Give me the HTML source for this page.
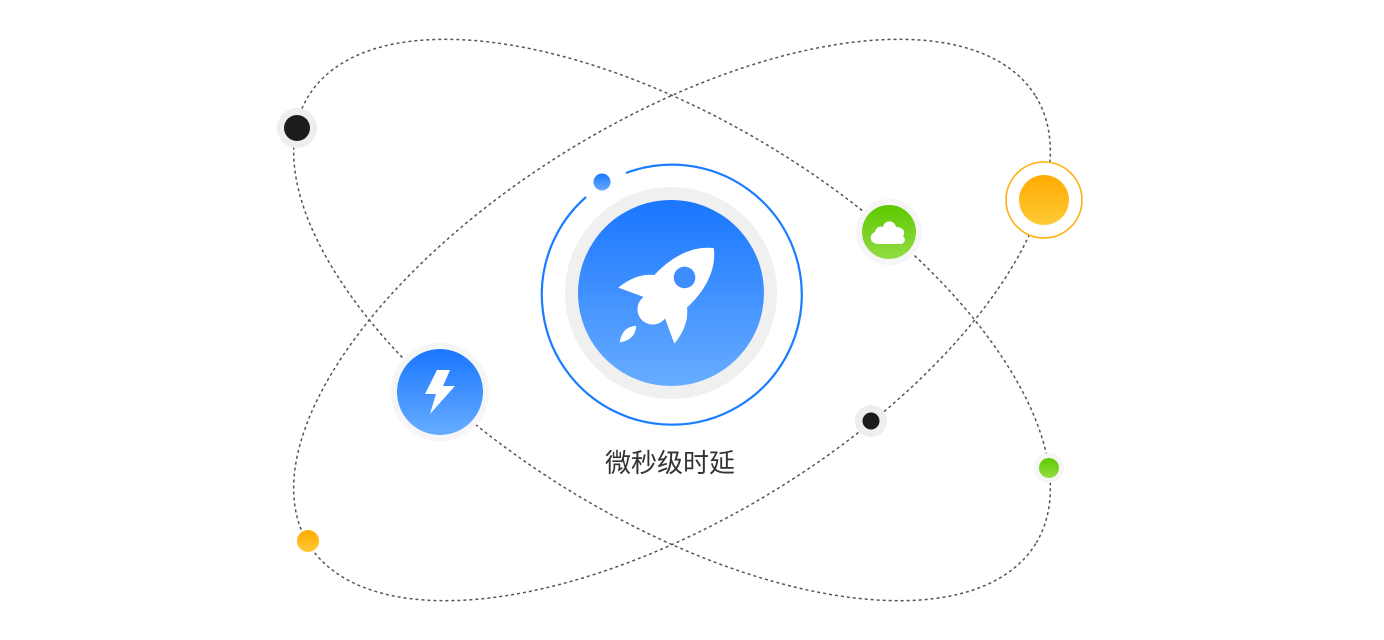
<!DOCTYPE html>
<html><head><meta charset="utf-8"><style>
html,body{margin:0;padding:0;background:#fff;width:1384px;height:640px;overflow:hidden;}
svg{display:block;}
</style></head><body>
<svg width="1384" height="640" viewBox="0 0 1384 640" xmlns="http://www.w3.org/2000/svg">
<defs>
<linearGradient id="gb" x1="0" y1="0" x2="0" y2="1"><stop offset="0" stop-color="#1a76ff"/><stop offset="1" stop-color="#67acff"/></linearGradient>
<linearGradient id="gg" x1="0" y1="0" x2="0" y2="1"><stop offset="0" stop-color="#5ec800"/><stop offset="1" stop-color="#92dc43"/></linearGradient>
<linearGradient id="go" x1="0" y1="0" x2="0" y2="1"><stop offset="0" stop-color="#ffaa00"/><stop offset="1" stop-color="#ffca36"/></linearGradient>
</defs>
<g fill="none" stroke="#555" stroke-width="1.5" stroke-dasharray="3 3">
<ellipse cx="672" cy="320" rx="427" ry="199" transform="rotate(31.6 672 320)"/>
<ellipse cx="672" cy="320" rx="427" ry="199" transform="rotate(-31.6 672 320)"/>
</g>
<circle cx="671" cy="295" r="130" fill="#fff"/>
<path d="M626,173 A130,130 0 1 1 586,197" fill="none" stroke="#1a7cff" stroke-width="2.2"/>
<circle cx="602" cy="182" r="8.5" fill="url(#gb)"/>
<circle cx="671" cy="293" r="106" fill="#f0f0f0"/>
<circle cx="671" cy="293" r="93" fill="url(#gb)"/>
<g transform="translate(668,294) rotate(45) scale(0.9)" fill="#fff">
<path d="M0,-72 C26,-52 30,-12 22,22 L-22,22 C-30,-12 -26,-52 0,-72Z"/>
<path d="M-20,-8 C-34,0 -42,14 -44,34 L-18,22Z"/>
<path d="M20,-8 C34,0 42,14 44,34 L18,22Z"/>
<circle cx="0" cy="24" r="17"/>
<path d="M0,50 C7,58 7,66 0,76 C-7,66 -7,58 0,50Z"/>
<circle cx="0" cy="-26" r="12" fill="#3d8dff"/>
</g>
<text x="670" y="472" text-anchor="middle" font-family="Liberation Sans, Noto Sans CJK SC, sans-serif" font-size="26" fill="#333">微秒级时延</text>
<circle cx="297" cy="128" r="20" fill="#eeeeee"/>
<circle cx="297" cy="128" r="13" fill="#1c1c1c"/>
<circle cx="889" cy="232" r="33" fill="#f6f6f6"/>
<circle cx="889" cy="232" r="27" fill="url(#gg)"/>
<path d="M878,244 C870,244 868,235 875,232 C876,227 880,226 883,227 C884,220 894,219 896,227 C903,227 906,232 903,236 C907,240 904,244 900,244Z" fill="#fff"/>
<circle cx="1044" cy="200" r="38" fill="#fff" stroke="#ffae0b" stroke-width="1.6"/>
<circle cx="1044" cy="200" r="25" fill="url(#go)"/>
<circle cx="440" cy="392" r="49" fill="#f6f6f6"/>
<circle cx="440" cy="392" r="43" fill="url(#gb)"/>
<path d="M437,370 L450,370 L443,386 L455,386 L430,414 L436,394 L425,394Z" fill="#fff"/>
<circle cx="871" cy="421" r="16" fill="#eeeeee"/>
<circle cx="871" cy="421" r="8.5" fill="#1c1c1c"/>
<circle cx="1049" cy="468" r="15" fill="#f6f6f6"/>
<circle cx="1049" cy="468" r="10" fill="url(#gg)"/>
<circle cx="308" cy="541" r="11" fill="url(#go)"/>
</svg>
</body></html>
